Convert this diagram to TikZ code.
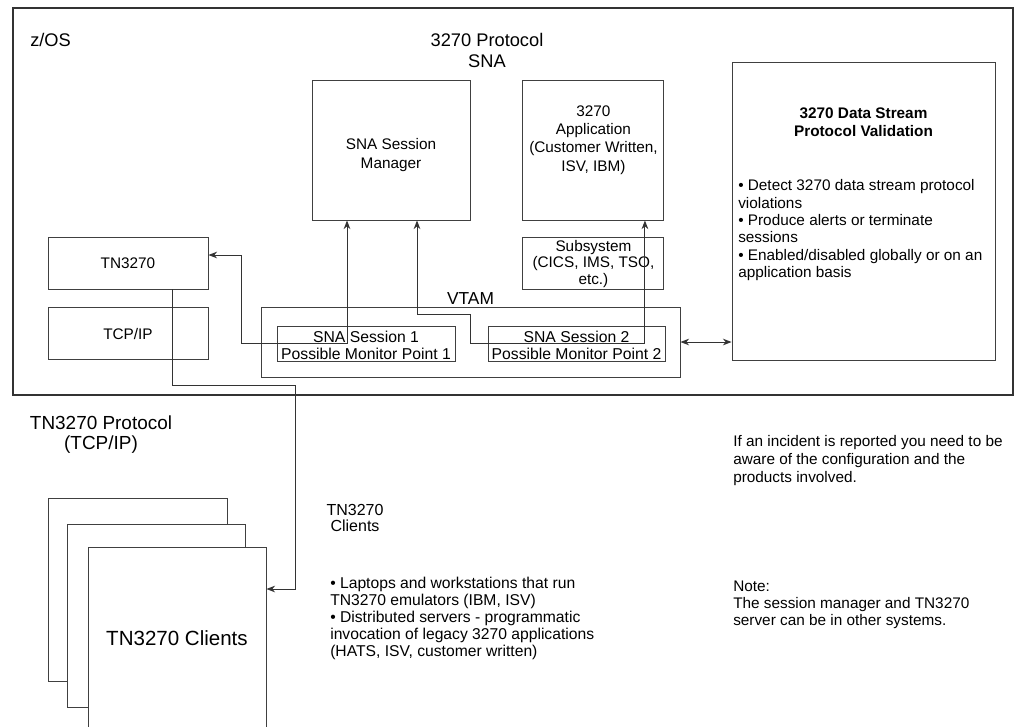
\documentclass[tikz,border=0pt]{standalone}
\usepackage{fontspec}
\setmainfont{Liberation Sans}
\usetikzlibrary{arrows.meta, positioning, calc}

\begin{document}
\begin{tikzpicture}[
    x=0.75pt, y=-0.75pt,
    dims/.style 2 args={minimum width=#1*0.75pt, minimum height=#2*0.75pt},
    zosframe/.style={draw=black!80, line width=1.2pt, inner sep=0},
    box/.style={draw=black!75, line width=0.7pt, fill=white, inner sep=0, align=center, font=\fontsize{11.5}{13.5}\selectfont},
    boxtext/.style={inner sep=0, align=center, font=\fontsize{11.5}{13.75}\selectfont},
    session/.style={box, font=\fontsize{11.8}{12.75}\selectfont},
    heading/.style={inner sep=0, align=center, font=\fontsize{13.7}{15.75}\selectfont},
    note/.style={inner sep=0, align=left, anchor=north west, font=\fontsize{11.5}{13.5}\selectfont},
    link/.style={draw=black!80, line width=0.7pt, >={Stealth[length=6.5pt, width=5pt]}}
]
    \useasboundingbox (0,0) rectangle (1016,726);
    \clip (0,0) rectangle (1016,726);

    % Nodes
    \node (zos) [zosframe, dims={1000}{387}] at (513,201.5) {};
    \node (zoslbl) [heading, anchor=west] at (30,40) {z/OS};
    \node (snalbl) [heading] at (487,50.5) {3270 Protocol\\SNA};

    \node (sm) [box, dims={158}{140}] at (391,150) {};
    \node (smtext) [boxtext] at ($(sm)+(0,5)$) {SNA Session\\Manager};
    \node (app) [box, dims={141}{140}, right=39pt of sm] {};
    \node (apptext) [boxtext] at ($(app)+(0,-10)$) {3270\\Application\\(Customer Written,\\ISV, IBM)};
    \node (sub) [box, dims={141}{52}, below=12.75pt of app, font=\fontsize{11.5}{12.5}\selectfont] {Subsystem\\(CICS, IMS, TSO,\\etc.)};

    \node (tn) [box, dims={160}{52}] at (128,263) {TN3270};
    \node (tcp) [box, dims={160}{52}, below=13.5pt of tn] {TCP/IP};

    \node (vtam) [box, dims={419}{70}] at (470.5,342) {};
    \node (vtamlbl) [heading, anchor=south, inner sep=1.5pt, font=\fontsize{13}{15}\selectfont] at (vtam.north) {VTAM};
    \node (s1) [session, dims={178}{35}] at (366,343.5) {};
    \node (s1text) [boxtext, font=\fontsize{11.8}{12.75}\selectfont] at ($(s1)+(0,2)$) {SNA Session 1\\Possible Monitor Point 1};
    \node (s2) [session, dims={177}{35}] at (576.5,343.5) {};
    \node (s2text) [boxtext, font=\fontsize{11.8}{12.75}\selectfont] at ($(s2)+(0,2)$) {SNA Session 2\\Possible Monitor Point 2};

    \node (val) [box, dims={263}{298}] at (863.5,211) {};
    \node (valtitle) [heading, font=\fontsize{11.5}{13.5}\selectfont\bfseries] at (863.5,122) {3270 Data Stream\\Protocol Validation};
    \node (valtext) [note, font=\fontsize{11.5}{13}\selectfont] at (738,179.5) {%
        • Detect 3270 data stream protocol\\violations\\%
        • Produce alerts or terminate\\sessions\\%
        • Enabled/disabled globally or on an\\application basis};

    \node (tnproto) [heading, font=\fontsize{14.2}{15}\selectfont] at (101,434.5) {TN3270 Protocol\\(TCP/IP)};

    \node (cl3) [box, dims={179}{183}] at (137.5,589.5) {};
    \node (cl2) [box, dims={178}{183}] at (156,615.5) {};
    \node (cl1) [box, dims={178}{183}, font=\fontsize{15.4}{18}\selectfont] at (177,638.5) {TN3270 Clients};

    \node (cllbl) [heading, font=\fontsize{12}{12}\selectfont] at (355,518) {TN3270\\Clients};
    \node (cltext) [note, font=\fontsize{11.75}{12.75}\selectfont] at (330,576.5) {%
        • Laptops and workstations that run\\TN3270 emulators (IBM, ISV)\\%
        • Distributed servers - programmatic\\invocation of legacy 3270 applications\\%
        (HATS, ISV, customer written)};

    \node (incident) [note] at (733,435.5) {If an incident is reported you need to be\\aware of the configuration and the\\products involved.};
    \node (remark) [note, font=\fontsize{11.5}{13}\selectfont] at (733,580.5) {Note:\\The session manager and TN3270\\server can be in other systems.};

    % Flows
    \draw [link, <->] ($(tn.east)+(0,-8)$) -| ($(s1.west)+(-35,0)$) -| ($(sm.south)+(-44,0)$);
    \draw [link, <->] ($(sm.south)+(26,0)$) |- ($(vtam.north)+(0,8)$) |- (s2.west) -| ($(app.south)+(51.5,0)$);
    \draw [link, ->] ($(tn.south)+(44,0)$) |- (295,385) |- ($(cl1.east)+(0,-49.5)$);
    \draw [link, <->] (vtam.east) -- (vtam.east -| val.west);

\end{tikzpicture}
\end{document}
